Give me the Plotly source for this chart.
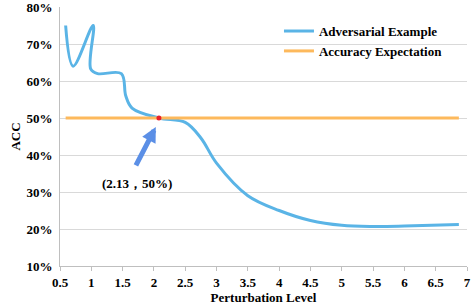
import plotly.graph_objects as go

# Data
adv_x = [0.59, 0.71, 1.03, 0.99, 1.1, 1.48, 1.55, 1.65, 2.08, 2.5, 2.75, 3.0, 3.5, 4.0, 4.5, 5.0, 5.5, 6.0, 6.87]
adv_y = [75, 64, 75, 63.3, 62, 62, 56, 52.7, 50, 48.8, 44.6, 37.8, 29, 25, 22.3, 21, 20.7, 20.8, 21.2]
exp_x = [0.59, 6.87]
exp_y = [50, 50]
point_x = [2.08]
point_y = [50]
point_label = "(2.13，50%)"
x_ticks = [0.5, 1, 1.5, 2, 2.5, 3, 3.5, 4, 4.5, 5, 5.5, 6, 6.5, 7]
y_ticks = [10, 20, 30, 40, 50, 60, 70, 80]

FONT = "Liberation Serif"

fig = go.Figure()
fig.add_trace(go.Scatter(x=adv_x, y=adv_y, mode="lines", name="<b>Adversarial Example</b>",
                         line=dict(color="#5AB4E6", width=3, shape="spline", smoothing=1.0)))
fig.add_trace(go.Scatter(x=exp_x, y=exp_y, mode="lines", name="<b>Accuracy Expectation</b>",
                         line=dict(color="#FDB95C", width=3)))
fig.add_trace(go.Scatter(x=point_x, y=point_y, mode="markers", showlegend=False,
                         marker=dict(color="#E8202A", size=5)))

fig.add_annotation(x=2.03, y=47.6, ax=1.70, ay=36.8, xref="x", yref="y", axref="x", ayref="y",
                   showarrow=True, arrowhead=2, arrowsize=0.6, arrowwidth=5, arrowcolor="#5B8FE6", text="")
fig.add_annotation(x=1.73, y=32.2, xref="x", yref="y", showarrow=False,
                   text="<b>" + point_label + "</b>", font=dict(family=FONT, size=13, color="#000"))

fig.update_layout(
    width=471, height=305,
    margin=dict(l=60, r=4, t=7, b=39),
    plot_bgcolor="white", paper_bgcolor="white",
    font=dict(family=FONT, size=13, color="#000"),
    legend=dict(x=0.538, y=0.965, xanchor="left", yanchor="top", bgcolor="rgba(0,0,0,0)",
                font=dict(family=FONT, size=13), itemwidth=30, tracegroupgap=0),
    xaxis=dict(range=[0.5, 7], tickvals=x_ticks, ticktext=[f"<b>{v:g}</b>" for v in x_ticks],
               ticks="outside", ticklen=4, tickcolor="#BFBFBF",
               showgrid=False, showline=True, linecolor="#BFBFBF", zeroline=False,
               automargin=False, ticklabeloverflow="allow",
               tickfont=dict(family=FONT, size=13),
               title=dict(text="<b>Perturbation Level</b>", standoff=0, font=dict(family=FONT, size=13))),
    yaxis=dict(range=[10, 80], tickvals=y_ticks, ticktext=[f"<b>{v}%</b>" for v in y_ticks],
               showgrid=True, gridcolor="#D9D9D9", showline=True, linecolor="#BFBFBF", zeroline=False,
               automargin=False, ticklabeloverflow="allow", ticklabelstandoff=4,
               tickfont=dict(family=FONT, size=13),
               title=dict(text="<b>ACC</b>", standoff=2, font=dict(family=FONT, size=13))),
)
fig.write_html("out.html", config={"displayModeBar": False},
               post_script="document.body.style.margin='0';")
